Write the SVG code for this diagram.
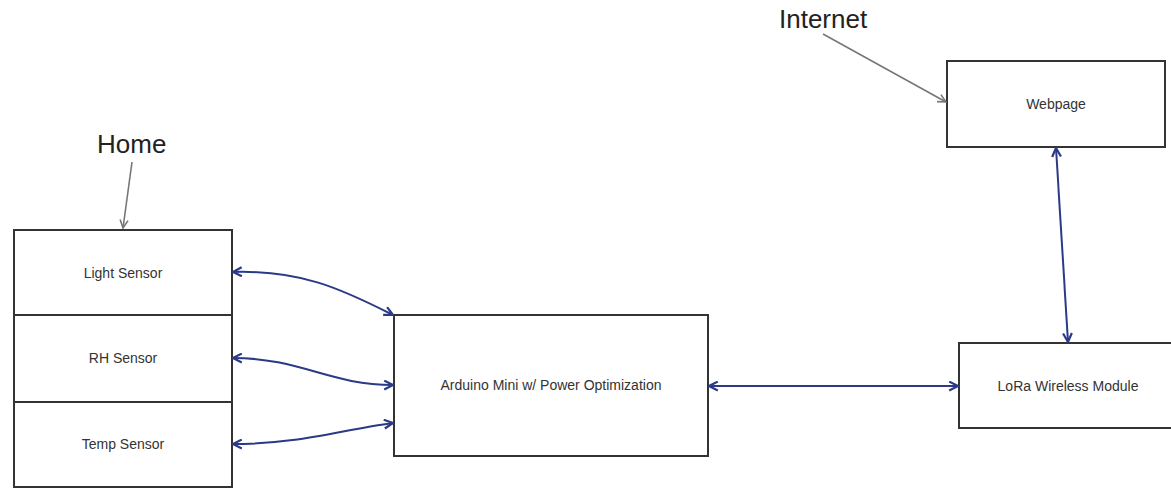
<svg xmlns="http://www.w3.org/2000/svg" width="1171" height="493" viewBox="0 0 1171 493">
<defs>
<style>
.box{fill:#fff;stroke:#333;stroke-width:2}
.lbl{font-family:"Liberation Sans",Arial,sans-serif;font-size:14px;fill:#333;text-anchor:middle}
.big{font-family:"Liberation Sans",Arial,sans-serif;font-size:26px;fill:#222}
.link{fill:none;stroke:#2b3a86;stroke-width:2;marker-start:url(#ab);marker-end:url(#ab)}
.pointer{fill:none;stroke:#777;stroke-width:1.6;marker-end:url(#ag)}
</style>
<marker id="ab" viewBox="0 0 10 10" refX="9" refY="5" markerWidth="11" markerHeight="11" markerUnits="userSpaceOnUse" orient="auto-start-reverse">
<path d="M1,1 L9,5 L1,9" fill="none" stroke="#2b3a86" stroke-width="2"/>
</marker>
<marker id="ag" viewBox="0 0 10 10" refX="9" refY="5" markerWidth="10" markerHeight="10" markerUnits="userSpaceOnUse" orient="auto">
<path d="M1,1 L9,5 L1,9" fill="none" stroke="#777" stroke-width="1.6"/>
</marker>
</defs>
<rect width="1171" height="493" fill="#fff"/>
<g id="labels">
<text class="big" x="97" y="153">Home</text>
<text class="big" x="779" y="28">Internet</text>
</g>
<g id="light-sensor"><rect class="box" x="14" y="230" width="218" height="85"/><text class="lbl" x="123" y="278">Light Sensor</text></g>
<g id="rh-sensor"><rect class="box" x="14" y="315" width="218" height="87"/><text class="lbl" x="123" y="363">RH Sensor</text></g>
<g id="temp-sensor"><rect class="box" x="14" y="402" width="218" height="85"/><text class="lbl" x="123" y="449">Temp Sensor</text></g>
<g id="arduino"><rect class="box" x="394" y="315" width="314" height="141"/><text class="lbl" x="551" y="390">Arduino Mini w/ Power Optimization</text></g>
<g id="webpage"><rect class="box" x="947" y="61" width="218" height="86"/><text class="lbl" x="1056" y="109">Webpage</text></g>
<g id="lora"><rect class="box" x="959" y="343" width="216" height="85"/><text class="lbl" x="1068" y="391">LoRa Wireless Module</text></g>
<g id="connectors">
<path class="pointer" d="M132,162 L123,228"/>
<path class="pointer" d="M823,34 L946,102"/>
<path class="link" d="M233,272 C300,270 340,288 393,315"/>
<path class="link" d="M233,358 C300,358 330,385 393,385"/>
<path class="link" d="M233,444 C300,444 340,430 393,423"/>
<path class="link" d="M709,386 L958,386"/>
<path class="link" d="M1056,148 L1068,342"/>
</g>
</svg>
